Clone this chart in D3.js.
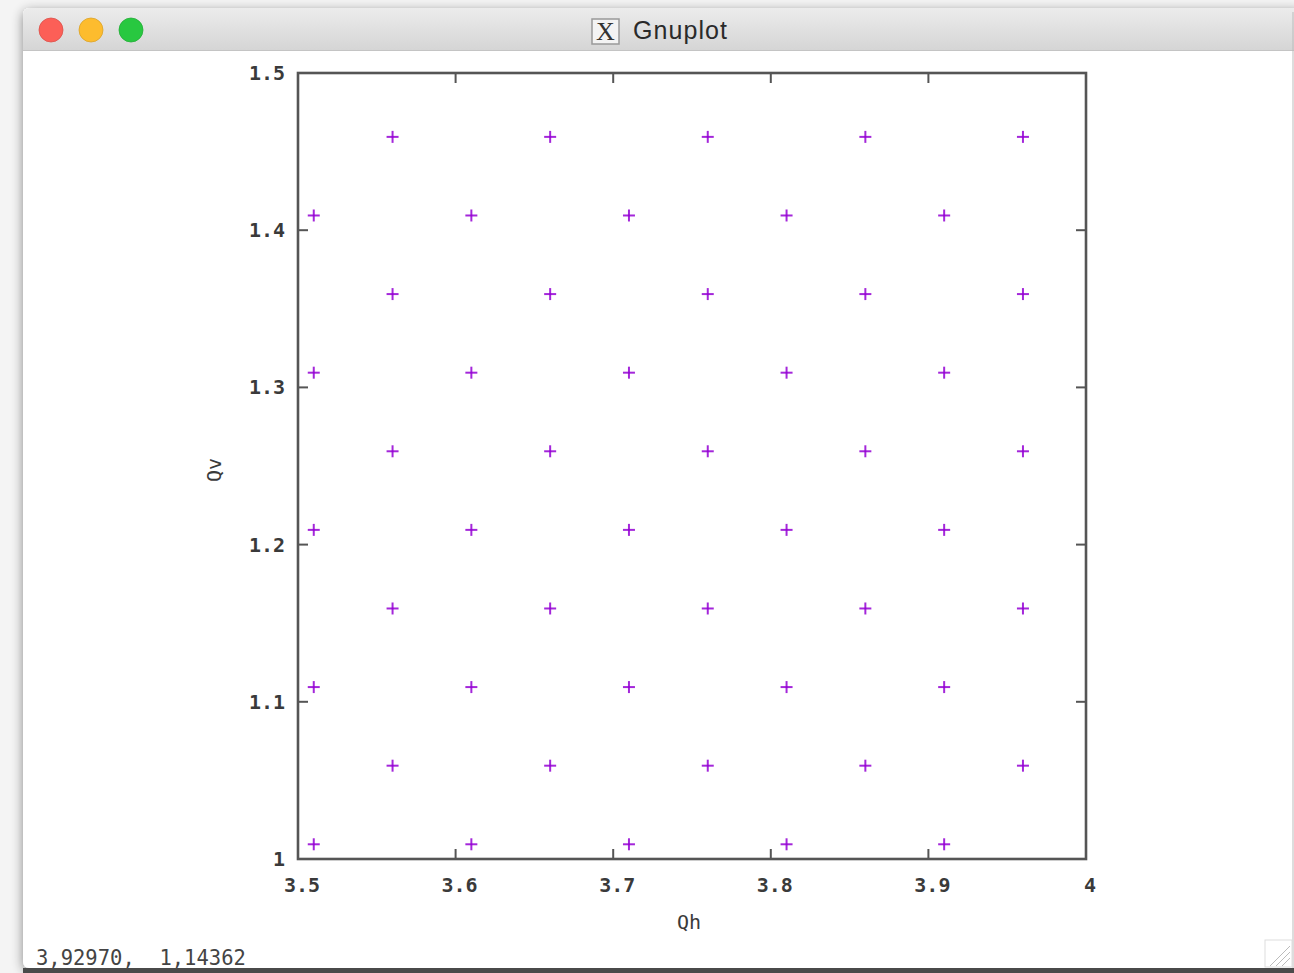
<!DOCTYPE html>
<html><head><meta charset="utf-8">
<script src="https://cdn.jsdelivr.net/npm/d3@7/dist/d3.min.js"></script>
<style>html,body{margin:0;padding:0;background:#f4f4f4;overflow:hidden}</style>
</head><body>
<script>
// Data
const xTicks = [3.5, 3.6, 3.7, 3.8, 3.9, 4];
const xTickLabels = ["3.5", "3.6", "3.7", "3.8", "3.9", "4"];
const yTicks = [1, 1.1, 1.2, 1.3, 1.4, 1.5];
const yTickLabels = ["1", "1.1", "1.2", "1.3", "1.4", "1.5"];
const oddRowY = [1.01, 1.11, 1.21, 1.31, 1.41];
const oddRowX = [3.51, 3.61, 3.71, 3.81, 3.91];
const evenRowY = [1.06, 1.16, 1.26, 1.36, 1.46];
const evenRowX = [3.56, 3.66, 3.76, 3.86, 3.96];
const xLabel = "Qh", yLabel = "Qv";
const windowTitle = "Gnuplot";
const statusText = "3,92970,  1,14362";

const points = [];
oddRowY.forEach(y => oddRowX.forEach(x => points.push([x, y])));
evenRowY.forEach(y => evenRowX.forEach(x => points.push([x, y])));

const W = 1294, H = 973;
const svg = d3.select("body").append("svg").attr("width", W).attr("height", H);
const defs = svg.append("defs");
const f = defs.append("filter").attr("id","sh").attr("x","-5%").attr("y","-5%").attr("width","110%").attr("height","110%");
f.append("feGaussianBlur").attr("in","SourceAlpha").attr("stdDeviation",6);
f.append("feOffset").attr("dy",3).attr("result","b");
f.append("feComponentTransfer").append("feFuncA").attr("type","linear").attr("slope",0.45);
const fm = f.append("feMerge"); fm.append("feMergeNode"); fm.append("feMergeNode").attr("in","SourceGraphic");
const g1 = defs.append("linearGradient").attr("id","tb").attr("x1",0).attr("y1",0).attr("x2",0).attr("y2",1);
g1.append("stop").attr("offset","0%").attr("stop-color","#ececec");
g1.append("stop").attr("offset","100%").attr("stop-color","#d5d5d5");

// window
const wx = 23, wy = 8, ww = 1294 - 23 + 10, wh = 960;
svg.append("rect").attr("x", wx).attr("y", wy).attr("width", ww).attr("height", wh).attr("rx", 6)
  .attr("fill", "#fff").attr("filter", "url(#sh)");
svg.append("path").attr("d", `M${wx},${wy+6} a6,6 0 0 1 6,-6 H${wx+ww-6} a6,6 0 0 1 6,6 V50 H${wx} Z`)
  .attr("fill", "url(#tb)");
svg.append("line").attr("x1", wx).attr("x2", wx+ww).attr("y1", 50.5).attr("y2", 50.5).attr("stroke", "#c4c4c4");
svg.append("rect").attr("x", wx).attr("y", 968).attr("width", ww).attr("height", 5).attr("fill", "#4a4a4a");
svg.append("line").attr("x1", 1293).attr("x2", 1293).attr("y1", 12).attr("y2", 968).attr("stroke", "#bbb");
[["#fc5f57", 51], ["#fdbc2e", 91], ["#28c840", 131]].forEach(([c, x]) =>
  svg.append("circle").attr("cx", x).attr("cy", 30).attr("r", 12).attr("fill", c).attr("stroke", d3.color(c).darker(0.4)).attr("stroke-width", 0.8));
// X icon
svg.append("rect").attr("x", 592).attr("y", 19).attr("width", 27).attr("height", 25).attr("fill", "#f3f3f3").attr("stroke", "#999").attr("stroke-width", 1.5);
svg.append("text").attr("x", 605.5).attr("y", 40).attr("text-anchor", "middle").attr("font-family", "Liberation Serif").attr("font-size", 26).attr("fill", "#333").text("X");
svg.append("text").attr("x", 633).attr("y", 39).attr("font-family", "Liberation Sans, Arial").attr("font-size", 25).attr("fill", "#2a2a2a").attr("textLength", 94).text(windowTitle);
// resize grip
const grip = svg.append("g").attr("stroke", "#bbb").attr("stroke-width", 1);
[8, 14, 20].forEach(d => grip.append("line").attr("x1", 1290 - d).attr("y1", 966).attr("x2", 1290).attr("y2", 966 - d));
svg.append("rect").attr("x", 1265).attr("y", 940).attr("width", 27).attr("height", 27).attr("fill", "none").attr("stroke", "#ddd");

// plot
const x = d3.scaleLinear().domain([3.5, 4]).range([298, 1086]);
const y = d3.scaleLinear().domain([1, 1.5]).range([859, 73]);
const axisColor = "#555";
const font = "DejaVu Sans Mono, Liberation Mono, monospace";
const tl = 10;
const ax = svg.append("g").attr("stroke", axisColor).attr("stroke-width", 2);
xTicks.forEach(t => {
  ax.append("line").attr("x1", x(t)).attr("x2", x(t)).attr("y1", y(1)).attr("y2", y(1) - tl);
  ax.append("line").attr("x1", x(t)).attr("x2", x(t)).attr("y1", y(1.5)).attr("y2", y(1.5) + tl);
});
yTicks.forEach(t => {
  ax.append("line").attr("y1", y(t)).attr("y2", y(t)).attr("x1", x(3.5)).attr("x2", x(3.5) + tl);
  ax.append("line").attr("y1", y(t)).attr("y2", y(t)).attr("x1", x(4)).attr("x2", x(4) - tl);
});
svg.append("rect").attr("x", x(3.5)).attr("y", y(1.5)).attr("width", x(4) - x(3.5)).attr("height", y(1) - y(1.5))
  .attr("fill", "none").attr("stroke", axisColor).attr("stroke-width", 2.6);

const lab = svg.append("g").attr("font-family", font).attr("font-size", 20).attr("fill", "#3a3a3a").attr("font-weight", "bold");
xTicks.forEach((t, i) => lab.append("text").attr("x", x(t) + 4).attr("y", 892).attr("text-anchor", "middle").text(xTickLabels[i]));
yTicks.forEach((t, i) => lab.append("text").attr("x", 285).attr("y", y(t) + 7).attr("text-anchor", "end").text(yTickLabels[i]));
lab.append("text").attr("x", 689).attr("y", 929).attr("text-anchor", "middle").attr("font-weight", "normal").text(xLabel);
lab.append("text").attr("transform", "translate(221,470) rotate(-90)").attr("text-anchor", "middle").attr("font-weight", "normal").text(yLabel);
lab.append("text").attr("x", 36).attr("y", 965).attr("font-weight", "normal").attr("fill", "#444")
  .style("white-space", "pre").attr("font-size", 20.5).text(statusText);

const pts = svg.append("g").attr("stroke", "#9400d3").attr("stroke-width", 2).attr("stroke-opacity", 0.85);
points.forEach(([px, py]) => {
  const cx = x(px), cy = y(py) + 1, s = 6;
  pts.append("line").attr("x1", cx - s).attr("x2", cx + s).attr("y1", cy).attr("y2", cy);
  pts.append("line").attr("x1", cx).attr("x2", cx).attr("y1", cy - s).attr("y2", cy + s);
});
</script>
</body></html>
